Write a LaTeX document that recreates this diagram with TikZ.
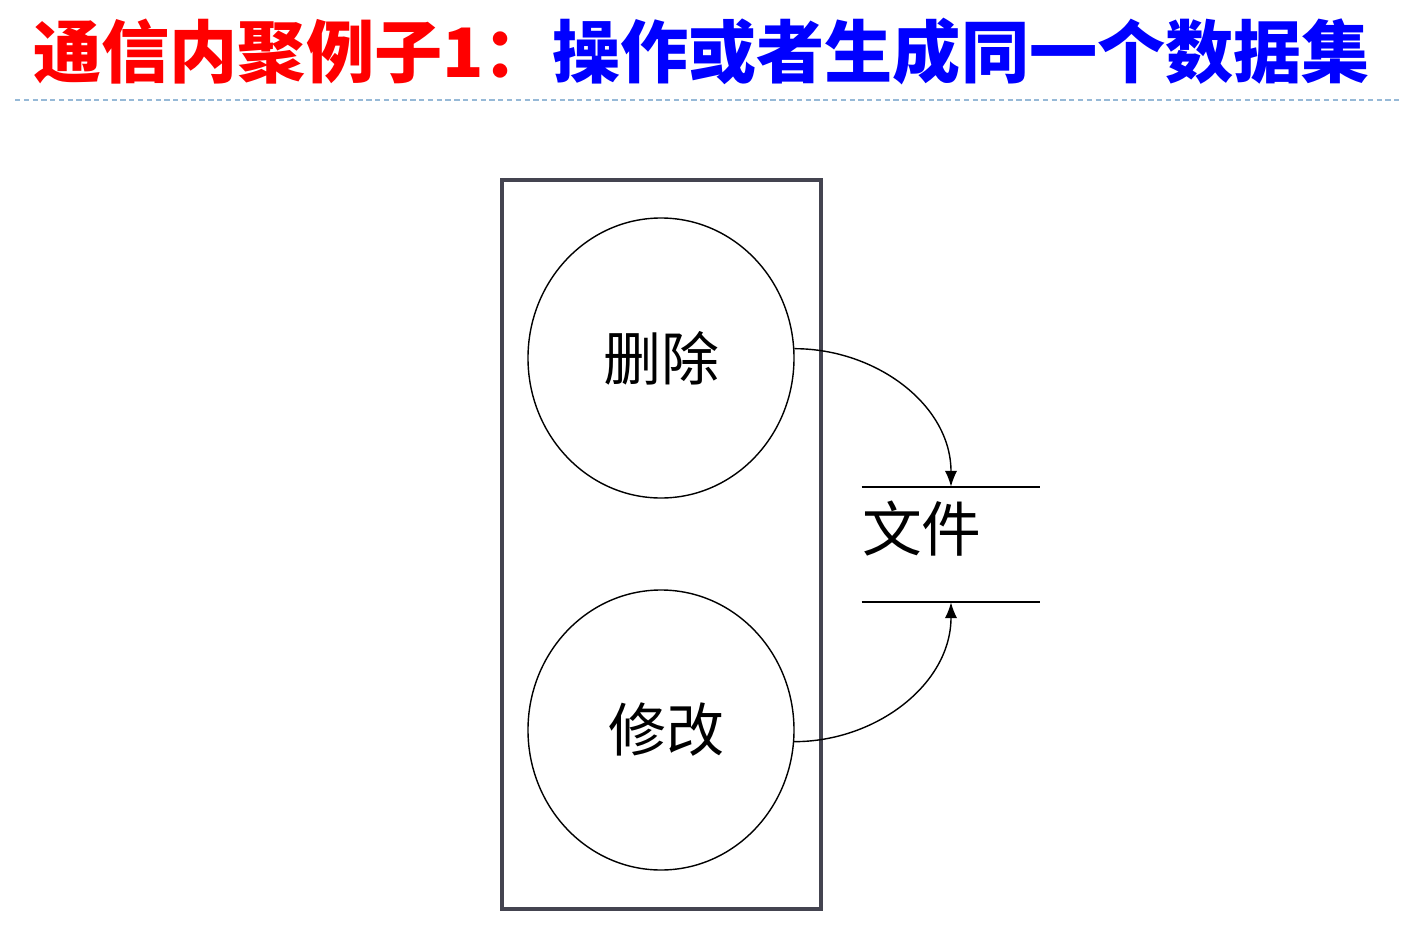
\documentclass[tikz,border=0pt]{standalone}
\usepackage{fontspec}
\setmainfont{Noto Sans CJK SC}
\usetikzlibrary{shapes.geometric}
\usetikzlibrary{arrows.meta}
\definecolor{boxgray}{RGB}{68,68,80}
\definecolor{ruleblue}{RGB}{150,185,215}
\begin{document}
\begin{tikzpicture}[x=0.02cm, y=-0.02cm,
  proc/.style={ellipse, draw, line width=0.8pt, minimum width=266*0.02cm, minimum height=280*0.02cm, font=\fontsize{33}{33}\selectfont},
  flow/.style={-{Latex[length=9pt,width=7pt]}, line width=0.8pt}]
  \useasboundingbox (0,0) rectangle (1428,930);
  \node[anchor=west, inner sep=0pt, font=\fontsize{38.8}{38.8}\selectfont\bfseries] (title) at (33,52)
    {\textcolor{red}{通信内聚例子1：}\textcolor{blue}{操作或者生成同一个数据集}};
  \draw[ruleblue, dashed, dash pattern=on 3pt off 2pt, line width=0.8pt] (15,100) coordinate (rl) -- (1400,100) coordinate (rr);
  \node[draw=boxgray, line width=2pt, minimum width=319*0.02cm, minimum height=729*0.02cm] (module) at (661.5,544.5) {};
  \node[proc] (del) at (661,358) {删除\hspace{8pt}};
  \node[proc] (mod) at (661,730) {\hspace{6pt}修改};
  \node[minimum width=178*0.02cm, minimum height=115*0.02cm, inner sep=0pt] (file) at (951,544.5) {};
  \node[anchor=west, inner sep=0pt, font=\fontsize{34}{34}\selectfont] (filename) at ([yshift=9pt]file.west) {文件};
  \draw[line width=1.2pt] (file.north west) -- (file.north east);
  \draw[line width=1.2pt] (file.south west) -- (file.south east);
  \draw[flow] (del.4) to[out=0, in=90] (file.north);
  \draw[flow] (mod.-5) to[out=0, in=-90] (file.south);
\end{tikzpicture}
\end{document}
